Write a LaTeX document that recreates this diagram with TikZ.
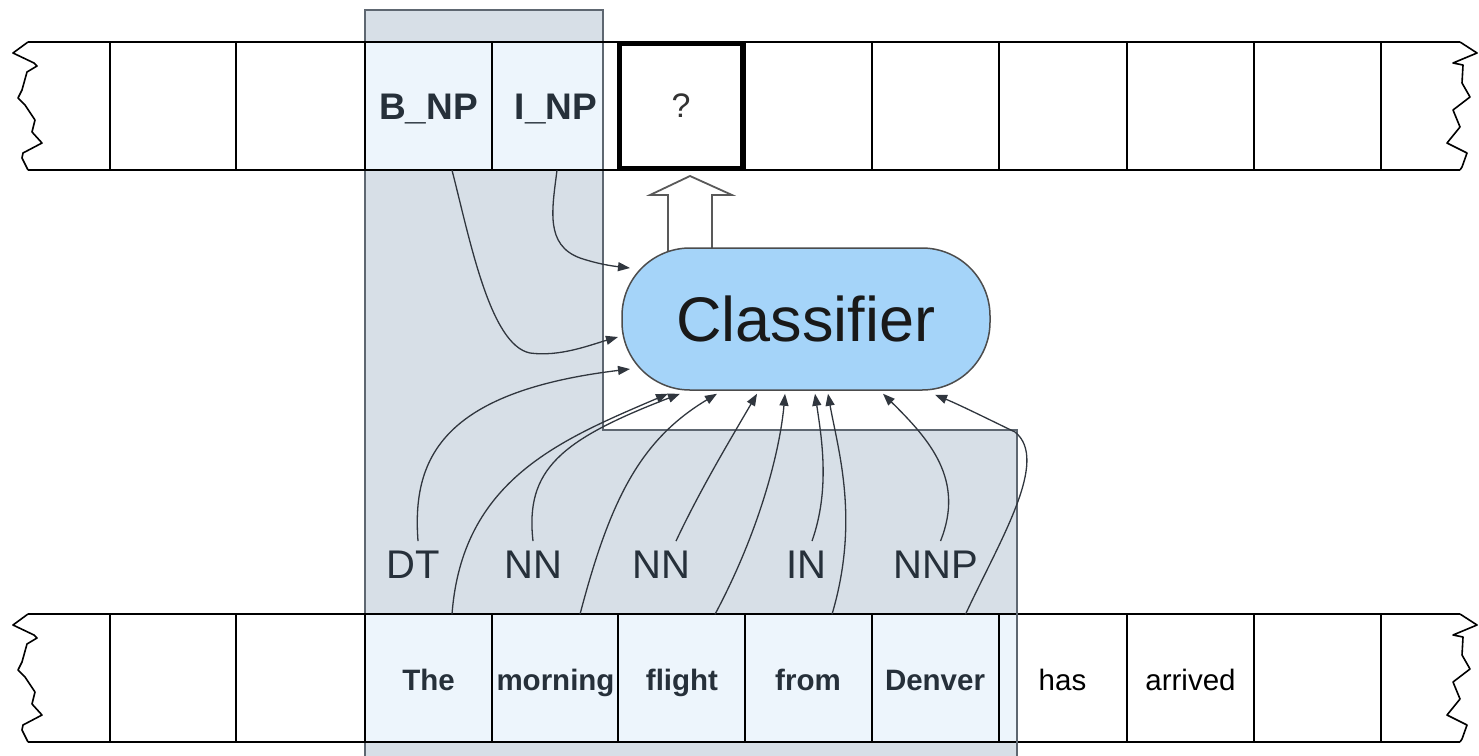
\documentclass[tikz,border=0pt]{standalone}
\usepackage{fontspec}
\setmainfont{Liberation Sans}
\usetikzlibrary{arrows.meta}
\definecolor{shadefill}{HTML}{D7DFE7}
\definecolor{cellfill}{HTML}{EDF5FC}
\definecolor{clsfill}{HTML}{A5D4F9}
\definecolor{shadeline}{HTML}{5E6771}
\definecolor{conn}{HTML}{30363E}
\definecolor{lbl}{HTML}{26303A}
\begin{document}
\begin{tikzpicture}[x=1pt,y=-1pt,
  tapeline/.style={line width=2.2pt, black},
  cellnode/.style={minimum width=126pt, minimum height=128pt, inner sep=0pt},
  tagtext/.style={font=\fontsize{37}{40}\selectfont\bfseries, text=lbl, text height=26pt, text depth=0pt},
  wordtext/.style={font=\fontsize{29.5}{32}\selectfont\bfseries, text=lbl, text height=24pt, text depth=0pt},
  plaintext/.style={font=\fontsize{29.5}{32}\selectfont, text=black, text height=24pt, text depth=0pt},
  postext/.style={font=\fontsize{40}{44}\selectfont, text=lbl, inner xsep=2pt, inner ysep=10pt},
  feed/.style={conn, line width=1.3pt, -{Triangle[length=12pt,width=9pt]}},
  hollow/.style={draw=black!65, line width=1.8pt, fill=white, line join=miter},
  clsbox/.style={draw=black!70, fill=clsfill, line width=1.5pt, rounded corners=68pt,
    minimum width=368pt, minimum height=142pt, font=\fontsize{63}{70}\selectfont, text=black!90},
]
\useasboundingbox (0,0) rectangle (1479,755);

% shaded region
\draw[shadeline, line width=2.2pt, fill=shadefill]
  (365,765) -- (365,10) -- (603,10) -- (603,430) -- (1017,430) -- (1017,765);
% light cell fills inside the shaded region
\fill[cellfill] (366,43) rectangle (602,169);
\fill[cellfill] (366,615) rectangle (1016,742);

% tapes
\foreach \o in {0,572}{
  \begin{scope}[shift={(0,\o)}]
    \draw[tapeline] (28,42) -- (1460,42);
    \draw[tapeline] (28,170) -- (1460,170);
    \draw[line width=1.6pt, line join=round] (28,42) -- (13,53) -- (34,63) -- (37,66) -- (27,72) -- (22,90)
      -- (18,98) -- (25,105) -- (35,120) -- (32,132) -- (42,143) -- (23,153) -- (22,158) -- (28,170);
    \draw[line width=1.6pt, line join=round] (1460,42) -- (1477,53) -- (1453,63) -- (1463,65) -- (1462,83)
      -- (1470,97) -- (1453,110) -- (1460,127) -- (1447,143) -- (1467,153) -- (1462,167) -- (1460,170);
    \foreach \x in {110,236,365,492,618,745,872,999,1127,1254,1381}
      \draw[tapeline] (\x,42) -- (\x,170);
  \end{scope}
}
\draw[shadeline, line width=2.2pt] (1017,430) -- (1017,765);

% top row cells
\node[cellnode, tagtext] (bnp) at (428.5,106) {B\_NP};
\node[cellnode, tagtext] (inp) at (556,106) {I\_NP};
\node[cellnode, draw=black, line width=5pt, minimum width=123pt, minimum height=125pt,
  font=\fontsize{34}{36}\selectfont, text=black!80] (q) at (681,106) {?};

% bottom row cells
\node[cellnode, wordtext] (the) at (428.5,678.5) {The};
\node[cellnode, wordtext] (morning) at (555.5,678.5) {morning};
\node[cellnode, wordtext] (flight) at (682,678.5) {flight};
\node[cellnode, wordtext] (from) at (808,678.5) {from};
\node[cellnode, wordtext] (denver) at (935,678.5) {Denver};
\node[cellnode, plaintext] (has) at (1062.5,678.5) {has};
\node[cellnode, plaintext] (arrived) at (1190.5,678.5) {arrived};

% POS labels
\node[postext] (dt) at (413,565) {DT};
\node[postext] (nna) at (533,565) {NN};
\node[postext] (nnb) at (661,565) {NN};
\node[postext] (in) at (806,565) {IN};
\node[postext] (nnp) at (935.5,565) {NNP};

% hollow output arrow
\draw[hollow] (668,252) -- (668,195) -- (650,195) -- (690,176) -- (732,195) -- (712,195) -- (712,252);

% classifier
\node[clsbox] (cls) at (806,319) {Classifier};

% feature connectors
\draw[feed] ([xshift=23.5pt]bnp.south) .. controls (470,240) and (490,345) .. (530,353)
  .. controls (560,357) and (590,345) .. ([xshift=-188pt,yshift=-18pt]cls.center);
\draw[feed] ([xshift=1pt]inp.south) .. controls (552,210) and (545,245) .. (580,258)
  .. controls (598,264) and (612,266) .. ([xshift=-176pt,yshift=51pt]cls.center);
\draw[feed] ([xshift=5pt]dt.north) .. controls (412,460) and (440,392) .. ([xshift=-176pt,yshift=-50pt]cls.center);
\draw[feed] ([xshift=23.5pt]the.north) .. controls (462,480) and (560,440) .. ([xshift=-138pt,yshift=-3pt]cls.south);
\draw[feed] (nna.north) .. controls (525,470) and (560,440) .. ([xshift=-126pt,yshift=-3pt]cls.south);
\draw[feed] ([xshift=24.5pt]morning.north) .. controls (610,500) and (640,440) .. ([xshift=-89pt,yshift=-3pt]cls.south);
\draw[feed] ([xshift=15pt]nnb.north) .. controls (700,490) and (730,440) .. ([xshift=-49pt,yshift=-3pt]cls.south);
\draw[feed] ([xshift=33pt]flight.north) .. controls (760,530) and (780,450) .. ([xshift=-21pt,yshift=-3pt]cls.south);
\draw[feed] ([xshift=6pt]in.north) .. controls (830,490) and (822,440) .. ([xshift=9pt,yshift=-3pt]cls.south);
\draw[feed] ([xshift=24pt]from.north) .. controls (860,520) and (838,450) .. ([xshift=22pt,yshift=-3pt]cls.south);
\draw[feed] ([xshift=5pt]nnp.north) .. controls (965,480) and (930,440) .. ([xshift=77pt,yshift=-3pt]cls.south);
\draw[feed] ([xshift=30.5pt]denver.north) .. controls (1000,540) and (1050,460) .. (1015,432)
  .. controls (990,420) and (960,405) .. ([xshift=129pt,yshift=-4pt]cls.south);
\end{tikzpicture}
\end{document}
